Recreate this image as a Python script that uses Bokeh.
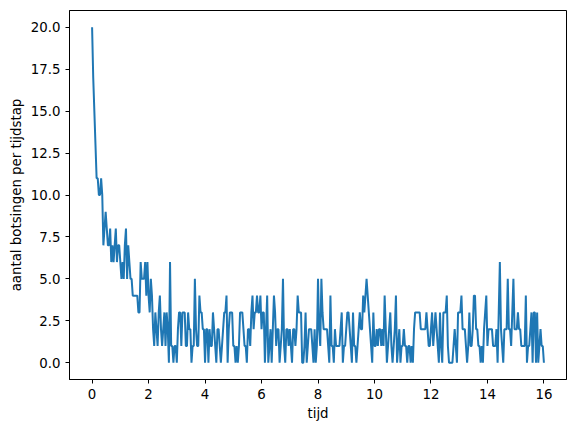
from bokeh.plotting import figure
from bokeh.models import ColumnDataSource, FixedTicker, NumeralTickFormatter, Range1d
from bokeh.embed import file_html
from bokeh.resources import INLINE

# aantal botsingen per tijdstap (stap 0.04)
dt = 0.04
botsingen = [
    20, 17, 15, 13, 11, 11, 10, 10, 11, 10,
    7, 8, 9, 8, 7, 7, 8, 6, 7, 6,
    7, 8, 6, 7, 7, 6, 5, 6, 5, 7,
    8, 5, 7, 6, 5, 5, 4, 4, 4, 4,
    4, 3, 3, 6, 5, 5, 5, 6, 4, 6,
    4, 3, 5, 4, 2, 1, 3, 2, 1, 3,
    4, 2, 1, 2, 3, 1, 3, 2, 0, 6,
    1, 1, 0, 1, 1, 0, 2, 3, 3, 1,
    3, 3, 3, 1, 1, 3, 2, 2, 0, 1,
    1, 5, 2, 1, 1, 4, 3, 3, 2, 2,
    0, 2, 2, 0, 2, 1, 1, 3, 2, 1,
    0, 2, 2, 1, 0, 1, 2, 3, 3, 4,
    0, 2, 3, 3, 3, 1, 1, 0, 1, 0,
    1, 3, 3, 3, 2, 1, 1, 0, 2, 2,
    1, 3, 4, 2, 3, 3, 4, 3, 3, 4,
    2, 3, 3, 0, 2, 4, 0, 1, 2, 0,
    2, 4, 3, 1, 2, 2, 0, 1, 2, 5,
    1, 0, 2, 2, 1, 2, 1, 0, 2, 2,
    1, 2, 4, 3, 3, 3, 0, 0, 1, 3,
    0, 1, 2, 2, 2, 1, 0, 2, 0, 1,
    5, 2, 1, 5, 3, 2, 2, 2, 2, 1,
    0, 4, 1, 1, 0, 2, 1, 1, 1, 1,
    2, 3, 0, 1, 1, 2, 3, 3, 2, 1,
    0, 3, 1, 1, 0, 1, 2, 3, 2, 2,
    4, 3, 4, 5, 4, 3, 2, 1, 0, 3,
    1, 1, 2, 1, 2, 2, 1, 2, 1, 4,
    2, 0, 1, 2, 3, 1, 0, 1, 2, 4,
    0, 1, 2, 0, 1, 1, 2, 1, 1, 0,
    1, 1, 0, 1, 0, 2, 3, 3, 3, 3,
    3, 2, 2, 2, 2, 2, 3, 2, 1, 1,
    2, 3, 1, 2, 3, 2, 1, 0, 3, 1,
    0, 3, 3, 3, 4, 1, 0, 0, 0, 0,
    1, 2, 1, 0, 3, 3, 3, 4, 2, 2,
    2, 1, 0, 1, 3, 1, 1, 2, 4, 4,
    2, 2, 1, 1, 0, 1, 0, 2, 3, 4,
    1, 2, 2, 2, 2, 1, 1, 1, 2, 0,
    3, 6, 2, 1, 0, 2, 2, 2, 5, 2,
    2, 1, 3, 5, 2, 2, 2, 3, 2, 2,
    1, 1, 1, 1, 4, 0, 1, 1, 2, 3,
    0, 3, 3, 0, 3, 0, 1, 2, 1, 1,
    0,
]
tijd = [i * dt for i in range(len(botsingen))]

x_ticks = [0, 2, 4, 6, 8, 10, 12, 14, 16]
y_ticks = [0, 2.5, 5, 7.5, 10, 12.5, 15, 17.5, 20]

source = ColumnDataSource(data=dict(tijd=tijd, botsingen=botsingen))

p = figure(width=568, height=424, output_backend="svg", toolbar_location=None,
           x_range=Range1d(-0.8, 16.8), y_range=Range1d(-1, 21))
p.min_border_left = 69
p.min_border_right = 2
p.min_border_top = 10
p.min_border_bottom = 45
p.background_fill_color = "white"
p.border_fill_color = "white"
p.outline_line_color = "black"
p.outline_line_width = 1

p.line("tijd", "botsingen", source=source, line_color="#1f77b4", line_width=2)

p.xgrid.visible = False
p.ygrid.visible = False

p.xaxis.ticker = FixedTicker(ticks=x_ticks)
p.yaxis.ticker = FixedTicker(ticks=y_ticks)
p.yaxis.formatter = NumeralTickFormatter(format="0.0")

p.xaxis.axis_label = "tijd"
p.yaxis.axis_label = "aantal botsingen per tijdstap"

for ax in [p.xaxis, p.yaxis]:
    ax.axis_line_color = "black"
    ax.major_tick_line_color = "black"
    ax.major_tick_out = 4
    ax.major_tick_in = 0
    ax.minor_tick_line_color = None
    ax.major_label_text_font = "DejaVu Sans"
    ax.major_label_text_font_size = "10pt"
    ax.major_label_text_color = "black"
    ax.axis_label_text_font = "DejaVu Sans"
    ax.axis_label_text_font_size = "10pt"
    ax.axis_label_text_font_style = "normal"
    ax.axis_label_text_color = "black"

p.xaxis.axis_label_standoff = 4
p.yaxis.axis_label_standoff = 4

open("out.html", "w").write(file_html(p, INLINE))
